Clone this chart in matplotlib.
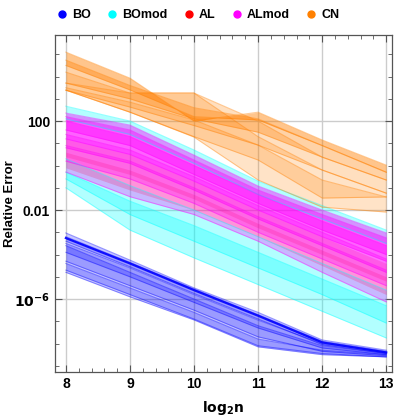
import numpy as np
import matplotlib
matplotlib.use("Agg")
import matplotlib.pyplot as plt
from matplotlib.lines import Line2D
from matplotlib.ticker import FixedLocator, NullFormatter

plt.rcParams['font.family'] = ['Liberation Sans', 'DejaVu Sans']

# x positions (log2 n)
log2n = [8, 9, 10, 11, 12, 13]

# Data: log10(relative error) band edges (upper, lower)
bo_bands = [
    ([-3.03, -4.25, -5.50, -6.60, -7.84, -8.30], [-3.40, -4.55, -5.75, -6.90, -8.05, -8.45]),
    ([-3.20, -4.35, -5.55, -6.70, -7.90, -8.35], [-3.90, -5.00, -6.15, -7.30, -8.20, -8.50]),
    ([-3.50, -4.60, -5.80, -6.95, -8.00, -8.40], [-4.30, -5.40, -6.50, -7.70, -8.35, -8.55]),
    ([-3.60, -4.80, -6.00, -7.20, -8.10, -8.45], [-4.80, -5.90, -6.94, -8.15, -8.50, -8.60]),
    ([-4.40, -5.50, -6.60, -7.80, -8.30, -8.50], [-4.70, -5.80, -6.90, -8.10, -8.45, -8.60]),
]
bo_line = [-3.26, -4.40, -5.60, -6.75, -7.95, -8.40]

bomod_bands = [
    ([2.67, 2.00, 0.70, -0.70, -1.80, -2.90], [2.10, 1.40, 0.10, -1.30, -2.40, -3.50]),
    ([0.30, -0.90, -2.00, -3.20, -4.40, -5.60], [-0.60, -2.20, -3.40, -4.60, -5.80, -7.08]),
    ([-0.30, -1.60, -2.70, -3.90, -5.10, -6.30], [-1.00, -2.90, -4.15, -5.35, -6.55, -7.75]),
]

al_bands = [
    ([1.20, 0.50, -0.70, -2.00, -3.20, -4.40], [0.40, -0.40, -1.50, -2.80, -4.00, -5.20]),
    ([0.60, -0.20, -1.30, -2.60, -3.80, -5.00], [-0.10, -1.10, -2.00, -3.20, -4.50, -5.80]),
]

almod_bands = [
    ([2.36, 1.82, 0.47, -0.92, -2.00, -3.03], [1.60, 0.90, -0.40, -1.70, -2.90, -4.00]),
    ([2.20, 1.60, 0.25, -1.10, -2.20, -3.25], [1.20, 0.50, -0.70, -2.00, -3.20, -4.30]),
    ([2.00, 1.30, 0.00, -1.30, -2.50, -3.60], [0.80, 0.10, -1.10, -2.40, -3.60, -4.80]),
    ([1.40, 0.70, -0.50, -1.80, -3.00, -4.20], [0.20, -0.60, -1.70, -3.00, -4.20, -5.40]),
    ([0.90, 0.20, -1.00, -2.30, -3.50, -4.70], [-0.29, -1.40, -2.20, -3.40, -4.80, -6.13]),
]

cn_bands = [
    ([5.10, 3.93, 2.00, 2.40, 1.15, 0.02], [4.50, 3.40, 2.20, 2.05, 0.90, -0.30]),
    ([4.74, 3.60, 2.60, 2.10, 0.90, -0.30], [3.71, 3.00, 2.10, 1.50, 0.38, -0.65]),
    ([4.20, 3.26, 3.26, 2.00, 0.38, -0.65], [3.39, 2.63, 1.80, 0.92, -0.20, -1.24]),
    ([3.71, 3.26, 3.26, 1.30, -0.20, -1.24], [3.39, 2.40, 1.30, 0.25, -1.46, -1.41]),
    ([3.50, 2.85, 2.05, 0.92, -0.65, -1.41], [3.39, 2.40, 1.28, -0.65, -1.87, -2.09]),
]

labels = ["BO", "BOmod", "AL", "ALmod", "CN"]
colors = ["#0000ff", "#00ffff", "#ff0000", "#ff00ff", "#ff8000"]

fig = plt.figure(figsize=(3.99, 4.19), dpi=100)
ax = fig.add_axes([55/399, 1 - 372/419, (392 - 55)/399, (372 - 35)/419])
ax.set_yscale('log')

x = np.array(log2n, dtype=float)

def draw(bands, color, alphas, ealpha=0.4):
    for (up, lo), a in zip(bands, alphas):
        u = np.power(10.0, up)
        l = np.power(10.0, lo)
        ax.fill_between(x, l, u, color=color, alpha=a, lw=0, zorder=2)
        ax.plot(x, u, color=color, alpha=ealpha, lw=0.8, zorder=3)
        ax.plot(x, l, color=color, alpha=ealpha, lw=0.8, zorder=3)

draw(bo_bands, colors[0], [0.22] * 5)
ax.plot(x, np.power(10.0, bo_line), color=colors[0], lw=1.6, alpha=0.9, zorder=3)
draw(bomod_bands, colors[1], [0.3] * 3)
draw(al_bands, colors[2], [0.2, 0.2], 0.0)
draw(almod_bands, colors[3], [0.42, 0.4, 0.36, 0.3, 0.28])
draw(cn_bands, colors[4], [0.45, 0.35, 0.25, 0.22, 0.22])

ax.set_xlim(7.83, 13.09)
ax.set_ylim(10**-9.28, 10**5.87)

ax.set_xticks(log2n)
ax.set_xticklabels([str(v) for v in log2n], fontsize=10, fontweight='bold')
ax.xaxis.set_minor_locator(FixedLocator(np.arange(7.8, 13.1, 0.2)))
ax.set_yticks([1e2, 1e-2, 1e-6])
ax.set_yticklabels(["100", "0.01", r"$\mathbf{10^{-6}}$"], fontsize=10, fontweight='bold')
ax.yaxis.set_minor_locator(FixedLocator([10.0**k for k in range(-9, 6)]))
ax.yaxis.set_minor_formatter(NullFormatter())
ax.tick_params(which='both', direction='in', top=True, right=True, color='#555555')
ax.tick_params(which='major', length=5, width=0.8)
ax.tick_params(which='minor', length=3, width=0.6)
ax.grid(True, which='major', color='#cccccc', lw=1.0, zorder=0)
ax.set_axisbelow(True)
for s in ax.spines.values():
    s.set_color('#555555')
    s.set_linewidth(0.9)

ax.set_ylabel("Relative Error", fontsize=9.5, fontweight='bold')
ax.yaxis.set_label_coords(-0.115, 0.5)
ax.set_xlabel(r"$\mathbf{log_2 n}$", fontsize=10, labelpad=6)

handles = [Line2D([], [], marker='o', ls='none', color=c, markersize=5) for c in colors]
fig.legend(handles, labels, loc='center', bbox_to_anchor=(0.497, 1 - 15/419), ncol=5,
           frameon=False, prop={'weight': 'bold', 'size': 9}, handletextpad=0.4,
           handlelength=0.8, columnspacing=1.3)

fig.savefig("out.png", dpi=100)
